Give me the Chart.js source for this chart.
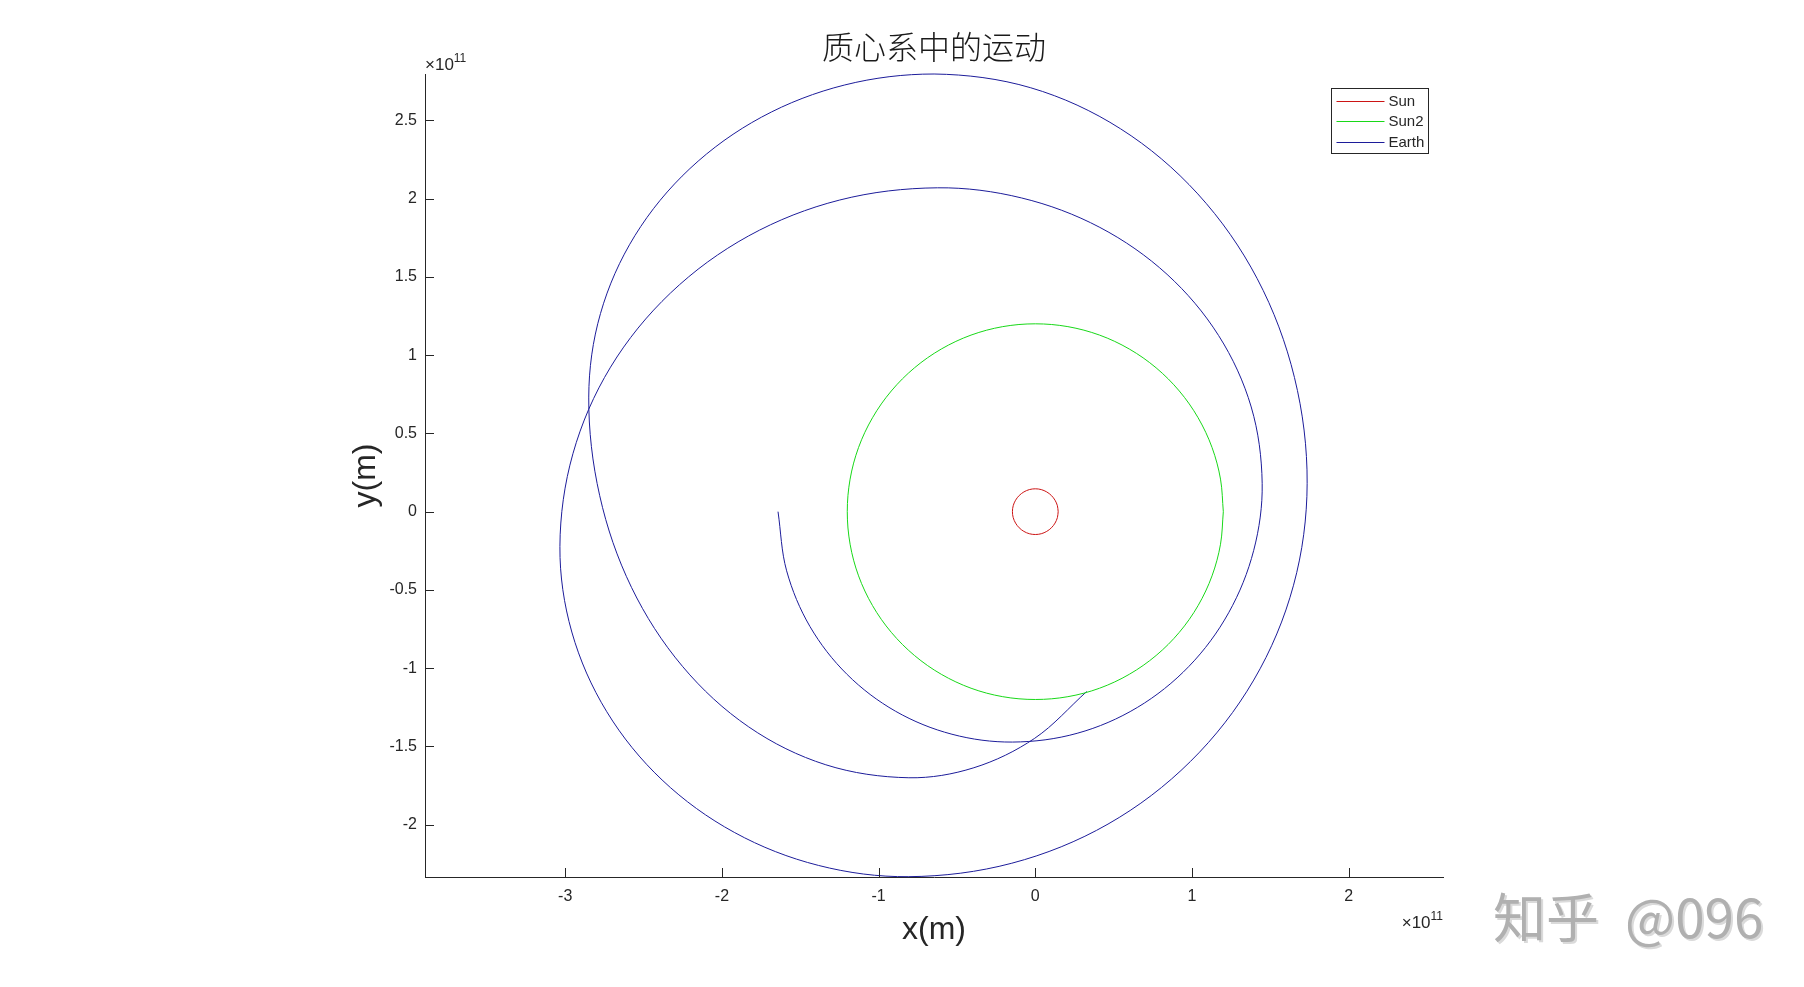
<!DOCTYPE html>
<html>
<head>
<meta charset="utf-8">
<script src="https://cdn.jsdelivr.net/npm/chart.js@4.4.0/dist/chart.umd.min.js"></script>
<style>
  html, body { margin: 0; padding: 0; background: #fff; }
  #wrap { position: relative; width: 1804px; height: 987px; }
  #mark {
    position: absolute; left: 1493px; top: 877px;
    font: 53px "Noto Sans CJK SC"; color: #b0b0b0;
    text-shadow: 2px 2px 0 #dadada; white-space: pre;
  }
  #mark span { margin-left: 26px; }
</style>
</head>
<body>
<div id="wrap">
  <canvas id="orbit" width="1804" height="987"></canvas>
  <div id="mark">知乎<span>@096</span></div>
</div>
<script>
// positions in units of 1e11 m (axes show x10^11)
const earthX = [-1.642, -1.587, -1.438, -1.201, -0.892, -0.532, -0.146,
  0.267, 0.651, 0.981, 1.234, 1.394, 1.448,
  1.378, 1.170, 0.841, 0.412, -0.087, -0.624,
  -1.248, -1.829, -2.328, -2.711, -2.951, -3.034,
  -2.958, -2.735, -2.382, -1.921, -1.384, -0.807,
  -0.150, 0.464, 0.990, 1.394, 1.648, 1.735,
  1.654, 1.416, 1.037, 0.544, -0.029, -0.646,
  -1.216, -1.748, -2.204, -2.555, -2.775, -2.850,
  -2.780, -2.577, -2.252, -1.829, -1.337, -0.807,
  -0.392, -0.004, 0.328];
const earthY = [0.000, -0.378, -0.734, -1.040, -1.275, -1.422, -1.472,
  -1.416, -1.251, -0.988, -0.646, -0.247, 0.181,
  0.669, 1.125, 1.516, 1.816, 2.004, 2.069,
  1.991, 1.762, 1.397, 0.923, 0.370, -0.223,
  -0.769, -1.278, -1.714, -2.049, -2.260, -2.332,
  -2.246, -1.996, -1.596, -1.076, -0.470, 0.181,
  0.857, 1.489, 2.030, 2.446, 2.708, 2.796,
  2.726, 2.520, 2.192, 1.764, 1.266, 0.732,
  0.102, -0.484, -0.988, -1.375, -1.617, -1.700,
  -1.636, -1.448, -1.149];

const sunX = [0.146, 0.141, 0.126, 0.103, 0.073, 0.038, 0, -0.038, -0.073, -0.103, -0.126, -0.141,
  -0.146, -0.141, -0.126, -0.103, -0.073, -0.038, 0, 0.038, 0.073, 0.103, 0.126, 0.141, 0.146];
const sunY = [0, 0.038, 0.073, 0.103, 0.126, 0.141, 0.146, 0.141, 0.126, 0.103, 0.073, 0.038,
  0, -0.038, -0.073, -0.103, -0.126, -0.141, -0.146, -0.141, -0.126, -0.103, -0.073, -0.038, 0];

const sun2X = [1.2, 1.182, 1.128, 1.039, 0.919, 0.771, 0.6, 0.410, 0.208, 0,
  -0.208, -0.410, -0.6, -0.771, -0.919, -1.039, -1.128, -1.182, -1.2,
  -1.182, -1.128, -1.039, -0.919, -0.771, -0.6, -0.410, -0.208, 0,
  0.208, 0.410, 0.6, 0.771, 0.919, 1.039, 1.128, 1.182, 1.2];
const sun2Y = [0, 0.208, 0.410, 0.6, 0.771, 0.919, 1.039, 1.128, 1.182, 1.2,
  1.182, 1.128, 1.039, 0.919, 0.771, 0.6, 0.410, 0.208, 0,
  -0.208, -0.410, -0.6, -0.771, -0.919, -1.039, -1.128, -1.182, -1.2,
  -1.182, -1.128, -1.039, -0.919, -0.771, -0.6, -0.410, -0.208, 0];

const xTicks = [-3, -2, -1, 0, 1, 2];
const yTicks = [-2, -1.5, -1, -0.5, 0, 0.5, 1, 1.5, 2, 2.5];

const INK = '#262626';
const SANS = '"Liberation Sans", Arial, sans-serif';

function pts(xs, ys) {
  return xs.map((x, i) => ({x: x, y: ys[i]}));
}

function series(label, xs, ys, color) {
  return {
    label: label,
    data: pts(xs, ys),
    showLine: true,
    borderColor: color,
    backgroundColor: color,
    borderWidth: 1,
    pointRadius: 0,
    tension: 0.34,
    clip: 4
  };
}

function drawExp(ctx, x, y, alignRight) {
  ctx.font = '17px ' + SANS;
  const w1 = ctx.measureText('\u00d710').width;
  ctx.font = '12px ' + SANS;
  const w2 = ctx.measureText('11').width;
  const x0 = alignRight ? x - w1 - w2 : x;
  ctx.textAlign = 'left';
  ctx.textBaseline = 'alphabetic';
  ctx.font = '17px ' + SANS;
  ctx.fillText('\u00d710', x0, y);
  ctx.font = '12px ' + SANS;
  ctx.fillText('11', x0 + w1, y - 8);
}

const decor = {
  id: 'decor',
  afterDraw(chart) {
    const ctx = chart.ctx;
    const a = chart.chartArea;
    const sx = chart.scales.x, sy = chart.scales.y;
    ctx.save();
    ctx.strokeStyle = INK;
    ctx.lineWidth = 1;

    // ticks pointing into the plot
    ctx.beginPath();
    sx.ticks.forEach(t => {
      const px = Math.round(sx.getPixelForValue(t.value)) + 0.5;
      ctx.moveTo(px, a.bottom);
      ctx.lineTo(px, a.bottom - 9);
    });
    sy.ticks.forEach(t => {
      const py = Math.round(sy.getPixelForValue(t.value)) + 0.5;
      ctx.moveTo(a.left, py);
      ctx.lineTo(a.left + 9, py);
    });
    ctx.stroke();

    // title
    ctx.fillStyle = '#1a1a1a';
    ctx.font = '300 32px "Noto Sans CJK SC"';
    ctx.textAlign = 'center';
    ctx.textBaseline = 'middle';
    ctx.fillText('质心系中的运动', (a.left + a.right) / 2, 47);

    // axis labels
    ctx.fillStyle = INK;
    ctx.font = '32px ' + SANS;
    ctx.fillText('x(m)', (a.left + a.right) / 2, 930);
    ctx.save();
    ctx.translate(366, (a.top + a.bottom) / 2);
    ctx.rotate(-Math.PI / 2);
    ctx.fillText('y(m)', 0, 0);
    ctx.restore();

    // exponent labels
    drawExp(ctx, a.left, 70, false);
    drawExp(ctx, a.right, 928, true);

    // legend
    const bx = a.right - 111.5, by = a.top + 14.5, bw = 97, bh = 65;
    ctx.fillStyle = '#fff';
    ctx.fillRect(bx, by, bw, bh);
    ctx.strokeStyle = INK;
    ctx.strokeRect(bx, by, bw, bh);
    ctx.font = '15px ' + SANS;
    ctx.textAlign = 'left';
    ctx.textBaseline = 'middle';
    chart.data.datasets.forEach((ds, i) => {
      const ry = Math.round(by + 12 + i * 20.5) + 0.5;
      ctx.strokeStyle = ds.borderColor;
      ctx.beginPath();
      ctx.moveTo(bx + 5, ry);
      ctx.lineTo(bx + 53, ry);
      ctx.stroke();
      ctx.fillStyle = INK;
      ctx.fillText(ds.label, bx + 57, ry);
    });
    ctx.restore();
  }
};

new Chart(document.getElementById('orbit').getContext('2d'), {
  type: 'scatter',
  data: {
    datasets: [
      series('Sun', sunX, sunY, '#cc1414'),
      series('Sun2', sun2X, sun2Y, '#18d818'),
      series('Earth', earthX, earthY, '#1c1c9a')
    ]
  },
  options: {
    responsive: false,
    animation: false,
    events: [],
    layout: {
      padding: {left: 365, right: 361, top: 74, bottom: 70}
    },
    plugins: {
      legend: {display: false},
      title: {display: false},
      tooltip: {enabled: false}
    },
    scales: {
      x: {
        type: 'linear',
        min: -3.895,
        max: 2.602,
        afterFit: s => { s.height = 40; },
        afterBuildTicks: s => { s.ticks = xTicks.map(v => ({value: v})); },
        border: {display: true, color: INK, width: 1},
        grid: {drawOnChartArea: false, drawTicks: false},
        ticks: {
          color: INK,
          font: {family: 'Liberation Sans', size: 16},
          padding: 10,
          maxRotation: 0,
          callback: v => String(v)
        }
      },
      y: {
        type: 'linear',
        min: -2.334,
        max: 2.796,
        afterFit: s => { s.width = 60; },
        afterBuildTicks: s => { s.ticks = yTicks.map(v => ({value: v})); },
        border: {display: true, color: INK, width: 1},
        grid: {drawOnChartArea: false, drawTicks: false},
        ticks: {
          color: INK,
          font: {family: 'Liberation Sans', size: 16},
          padding: 8,
          callback: v => String(v)
        }
      }
    }
  },
  plugins: [decor]
});
</script>
</body>
</html>
